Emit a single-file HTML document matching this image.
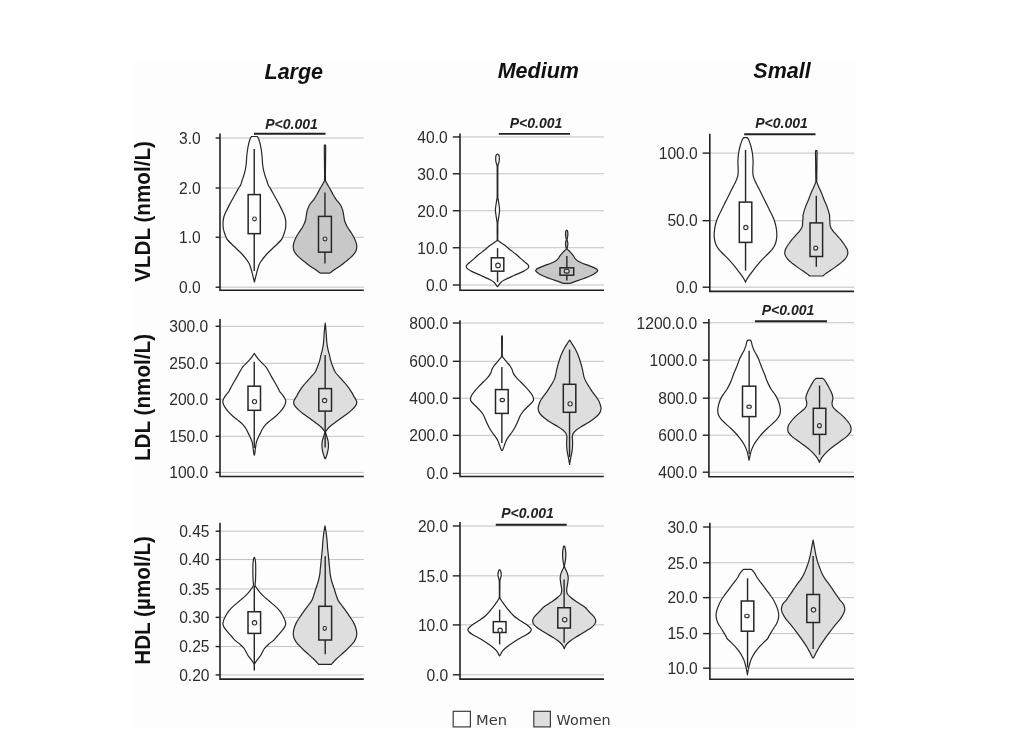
<!DOCTYPE html>
<html lang="en">
<head>
<meta charset="utf-8">
<title>Lipoprotein particle concentrations by size and sex</title>
<style>
html,body{margin:0;padding:0;background:#ffffff;}
body{width:1024px;height:738px;overflow:hidden;font-family:"Liberation Sans",Arial,sans-serif;}
svg{display:block;filter:blur(0.7px);}
</style>
</head>
<body>
<svg width="1024" height="738" viewBox="0 0 1024 738">
<rect x="132" y="62" width="724" height="667" fill="#fdfdfd"/>
<g><line x1="220.00" y1="138.00" x2="363.75" y2="138.00" stroke="#c2c2c2" stroke-width="1"/>
<line x1="220.00" y1="188.00" x2="363.75" y2="188.00" stroke="#c2c2c2" stroke-width="1"/>
<line x1="220.00" y1="237.25" x2="363.75" y2="237.25" stroke="#c2c2c2" stroke-width="1"/>
<line x1="220.00" y1="287.20" x2="363.75" y2="287.20" stroke="#c2c2c2" stroke-width="1"/>
<path d="M257.40 136.50 C257.67 137.04 258.46 138.12 259.00 139.75 C259.54 141.38 260.17 143.79 260.65 146.25 C261.13 148.71 261.60 151.79 261.90 154.50 C262.20 157.21 262.28 160.50 262.45 162.50 C262.62 164.50 262.69 165.14 262.90 166.50 C263.11 167.86 263.35 169.15 263.70 170.65 C264.05 172.15 264.51 173.90 265.00 175.50 C265.49 177.10 266.12 178.68 266.65 180.25 C267.17 181.82 267.57 183.59 268.15 184.90 C268.73 186.21 269.07 186.21 270.15 188.10 C271.23 189.99 273.15 193.53 274.65 196.25 C276.15 198.97 277.73 201.69 279.15 204.40 C280.57 207.11 282.21 210.48 283.15 212.50 C284.09 214.52 284.38 215.14 284.80 216.50 C285.22 217.86 285.48 219.28 285.65 220.65 C285.82 222.02 285.83 223.35 285.80 224.70 C285.77 226.05 285.68 227.41 285.45 228.75 C285.22 230.09 284.84 231.39 284.40 232.75 C283.96 234.11 283.34 235.69 282.80 236.90 C282.26 238.11 282.47 238.44 281.15 240.00 C279.83 241.56 277.36 243.83 274.90 246.25 C272.44 248.67 268.84 251.79 266.40 254.50 C263.96 257.21 261.57 260.50 260.25 262.50 C258.93 264.50 259.01 265.12 258.50 266.50 C257.99 267.88 257.58 269.38 257.20 270.75 C256.82 272.12 256.53 273.42 256.20 274.75 C255.87 276.08 255.50 277.54 255.20 278.75 C254.90 279.96 254.53 281.46 254.40 282.00 L254.40 282.00 C254.27 281.46 253.90 279.96 253.60 278.75 C253.30 277.54 252.93 276.08 252.60 274.75 C252.27 273.42 251.98 272.12 251.60 270.75 C251.22 269.38 250.81 267.88 250.30 266.50 C249.79 265.12 249.87 264.50 248.55 262.50 C247.23 260.50 244.84 257.21 242.40 254.50 C239.96 251.79 236.36 248.67 233.90 246.25 C231.44 243.83 228.97 241.56 227.65 240.00 C226.33 238.44 226.54 238.11 226.00 236.90 C225.46 235.69 224.84 234.11 224.40 232.75 C223.96 231.39 223.58 230.09 223.35 228.75 C223.12 227.41 223.03 226.05 223.00 224.70 C222.97 223.35 222.98 222.02 223.15 220.65 C223.32 219.28 223.58 217.86 224.00 216.50 C224.42 215.14 224.71 214.52 225.65 212.50 C226.59 210.48 228.23 207.11 229.65 204.40 C231.07 201.69 232.65 198.97 234.15 196.25 C235.65 193.53 237.57 189.99 238.65 188.10 C239.73 186.21 240.07 186.21 240.65 184.90 C241.23 183.59 241.62 181.82 242.15 180.25 C242.68 178.68 243.31 177.10 243.80 175.50 C244.29 173.90 244.75 172.15 245.10 170.65 C245.45 169.15 245.69 167.86 245.90 166.50 C246.11 165.14 246.18 164.50 246.35 162.50 C246.52 160.50 246.60 157.21 246.90 154.50 C247.20 151.79 247.67 148.71 248.15 146.25 C248.63 143.79 249.26 141.38 249.80 139.75 C250.34 138.12 251.13 137.04 251.40 136.50 Z" fill="#fdfdfd" stroke="#262626" stroke-width="1.2" stroke-linejoin="round"/>
<line x1="254.23" y1="148.90" x2="254.23" y2="271.00" stroke="#262626" stroke-width="1.4"/>
<rect x="248.15" y="194.60" width="12.15" height="39.05" fill="#fdfdfd" stroke="#262626" stroke-width="1.5"/>
<ellipse cx="254.50" cy="218.90" rx="1.90" ry="1.90" fill="#fdfdfd" stroke="#333" stroke-width="1.15"/>
<path d="M325.00 145.25 C325.11 145.38 325.55 144.21 325.65 146.00 C325.75 147.79 325.62 152.67 325.60 156.00 C325.58 159.33 325.52 162.00 325.50 166.00 C325.48 170.00 325.26 177.10 325.50 180.00 C325.74 182.90 326.20 181.94 326.95 183.40 C327.70 184.86 329.01 186.95 330.00 188.75 C330.99 190.55 331.87 192.39 332.90 194.20 C333.93 196.01 334.93 197.80 336.20 199.60 C337.47 201.40 339.41 203.20 340.50 205.00 C341.59 206.80 342.21 208.60 342.75 210.40 C343.29 212.20 343.41 213.98 343.75 215.80 C344.09 217.62 344.23 219.48 344.80 221.30 C345.38 223.12 346.20 224.90 347.20 226.70 C348.20 228.50 349.67 230.30 350.80 232.10 C351.93 233.90 353.10 235.70 354.00 237.50 C354.90 239.30 355.73 241.27 356.20 242.90 C356.67 244.53 356.88 245.85 356.80 247.30 C356.72 248.75 356.43 250.17 355.70 251.60 C354.97 253.03 354.03 254.27 352.40 255.90 C350.77 257.53 347.88 259.77 345.90 261.40 C343.92 263.03 342.48 264.27 340.50 265.70 C338.52 267.13 335.62 268.87 334.00 270.00 C332.38 271.13 331.46 271.98 330.75 272.50 C330.04 273.02 329.92 273.00 329.75 273.10 L320.25 273.10 C320.08 273.00 319.96 273.02 319.25 272.50 C318.54 271.98 317.62 271.13 316.00 270.00 C314.38 268.87 311.48 267.13 309.50 265.70 C307.52 264.27 306.08 263.03 304.10 261.40 C302.12 259.77 299.23 257.53 297.60 255.90 C295.97 254.27 295.03 253.03 294.30 251.60 C293.57 250.17 293.28 248.75 293.20 247.30 C293.12 245.85 293.33 244.53 293.80 242.90 C294.27 241.27 295.10 239.30 296.00 237.50 C296.90 235.70 298.07 233.90 299.20 232.10 C300.33 230.30 301.80 228.50 302.80 226.70 C303.80 224.90 304.62 223.12 305.20 221.30 C305.77 219.48 305.91 217.62 306.25 215.80 C306.59 213.98 306.71 212.20 307.25 210.40 C307.79 208.60 308.41 206.80 309.50 205.00 C310.59 203.20 312.53 201.40 313.80 199.60 C315.07 197.80 316.07 196.01 317.10 194.20 C318.13 192.39 319.01 190.55 320.00 188.75 C320.99 186.95 322.30 184.86 323.05 183.40 C323.80 181.94 324.26 182.90 324.50 180.00 C324.74 177.10 324.52 170.00 324.50 166.00 C324.48 162.00 324.42 159.33 324.40 156.00 C324.38 152.67 324.25 147.79 324.35 146.00 C324.45 144.21 324.89 145.38 325.00 145.25 Z" fill="#c8c8c8" stroke="#262626" stroke-width="1.2" stroke-linejoin="round"/>
<line x1="324.95" y1="192.60" x2="324.95" y2="263.50" stroke="#262626" stroke-width="1.4"/>
<rect x="318.50" y="216.40" width="12.90" height="35.75" fill="#c8c8c8" stroke="#262626" stroke-width="1.5"/>
<ellipse cx="325.00" cy="238.90" rx="1.90" ry="1.90" fill="#d6d6d6" stroke="#333" stroke-width="1.15"/>
<path d="M220.00 133.60 V290.30 H363.75" fill="none" stroke="#222" stroke-width="1.6"/>
<line x1="215.60" y1="138.00" x2="220.00" y2="138.00" stroke="#222" stroke-width="1.4"/>
<text x="200.80" y="143.75" text-anchor="end" font-family="Liberation Sans, Arial, sans-serif" font-size="15.6" fill="#2c2c2c">3.0</text>
<line x1="215.60" y1="188.00" x2="220.00" y2="188.00" stroke="#222" stroke-width="1.4"/>
<text x="200.80" y="193.75" text-anchor="end" font-family="Liberation Sans, Arial, sans-serif" font-size="15.6" fill="#2c2c2c">2.0</text>
<line x1="215.60" y1="237.25" x2="220.00" y2="237.25" stroke="#222" stroke-width="1.4"/>
<text x="200.80" y="243.00" text-anchor="end" font-family="Liberation Sans, Arial, sans-serif" font-size="15.6" fill="#2c2c2c">1.0</text>
<line x1="215.60" y1="287.20" x2="220.00" y2="287.20" stroke="#222" stroke-width="1.4"/>
<text x="200.80" y="292.95" text-anchor="end" font-family="Liberation Sans, Arial, sans-serif" font-size="15.6" fill="#2c2c2c">0.0</text>
<line x1="254.00" y1="133.75" x2="325.50" y2="133.75" stroke="#222" stroke-width="1.9"/>
<text x="291.50" y="128.50" text-anchor="middle" font-family="Liberation Sans, Arial, sans-serif" font-size="14" font-weight="bold" font-style="italic" fill="#222">P&lt;0.001</text></g>
<g><line x1="460.00" y1="136.95" x2="604.00" y2="136.95" stroke="#c2c2c2" stroke-width="1"/>
<line x1="460.00" y1="173.75" x2="604.00" y2="173.75" stroke="#c2c2c2" stroke-width="1"/>
<line x1="460.00" y1="210.75" x2="604.00" y2="210.75" stroke="#c2c2c2" stroke-width="1"/>
<line x1="460.00" y1="247.75" x2="604.00" y2="247.75" stroke="#c2c2c2" stroke-width="1"/>
<line x1="460.00" y1="285.00" x2="604.00" y2="285.00" stroke="#c2c2c2" stroke-width="1"/>
<path d="M497.50 154.21 C497.72 154.34 498.49 154.16 498.80 154.97 C499.11 155.79 499.34 157.77 499.34 159.09 C499.34 160.41 499.04 161.71 498.80 162.89 C498.56 164.06 498.04 163.70 497.88 166.14 C497.72 168.58 497.83 172.55 497.83 177.52 C497.82 182.49 497.77 192.34 497.83 195.95 C497.88 199.56 497.93 197.57 498.15 199.20 C498.37 200.83 498.89 203.90 499.13 205.70 C499.36 207.51 499.56 208.60 499.56 210.04 C499.56 211.49 499.36 212.57 499.13 214.38 C498.89 216.18 498.37 219.47 498.15 220.88 C497.93 222.29 497.88 221.10 497.83 222.83 C497.77 224.56 497.83 228.45 497.83 231.26 C497.83 234.07 497.70 238.13 497.83 239.72 C497.95 241.31 498.22 240.40 498.58 240.80 C498.95 241.20 498.95 241.34 499.99 242.10 C501.04 242.86 503.19 244.09 504.87 245.35 C506.55 246.62 508.27 248.24 510.07 249.69 C511.88 251.13 513.96 252.58 515.71 254.02 C517.46 255.47 519.14 257.10 520.59 258.36 C522.03 259.63 523.21 260.62 524.38 261.61 C525.56 262.61 526.91 263.51 527.64 264.32 C528.36 265.14 528.72 265.77 528.72 266.49 C528.72 267.21 528.54 267.85 527.64 268.66 C526.73 269.47 525.65 270.19 523.30 271.37 C520.95 272.54 516.71 274.26 513.54 275.70 C510.38 277.15 506.50 278.87 504.33 280.04 C502.16 281.21 501.44 281.94 500.54 282.75 C499.63 283.56 499.32 284.38 498.91 284.92 C498.49 285.46 498.28 285.73 498.04 286.00 C497.81 286.27 497.59 286.45 497.50 286.54 L497.50 286.54 C497.41 286.45 497.19 286.27 496.96 286.00 C496.72 285.73 496.51 285.46 496.09 284.92 C495.68 284.38 495.37 283.56 494.46 282.75 C493.56 281.94 492.84 281.21 490.67 280.04 C488.50 278.87 484.62 277.15 481.46 275.70 C478.29 274.26 474.05 272.54 471.70 271.37 C469.35 270.19 468.27 269.47 467.36 268.66 C466.46 267.85 466.28 267.21 466.28 266.49 C466.28 265.77 466.64 265.14 467.36 264.32 C468.09 263.51 469.44 262.61 470.62 261.61 C471.79 260.62 472.97 259.63 474.41 258.36 C475.86 257.10 477.54 255.47 479.29 254.02 C481.04 252.58 483.12 251.13 484.93 249.69 C486.73 248.24 488.45 246.62 490.13 245.35 C491.81 244.09 493.96 242.86 495.01 242.10 C496.05 241.34 496.05 241.20 496.42 240.80 C496.78 240.40 497.05 241.31 497.17 239.72 C497.30 238.13 497.17 234.07 497.17 231.26 C497.17 228.45 497.23 224.56 497.17 222.83 C497.12 221.10 497.07 222.29 496.85 220.88 C496.63 219.47 496.11 216.18 495.87 214.38 C495.64 212.57 495.44 211.49 495.44 210.04 C495.44 208.60 495.64 207.51 495.87 205.70 C496.11 203.90 496.63 200.83 496.85 199.20 C497.07 197.57 497.12 199.56 497.17 195.95 C497.23 192.34 497.18 182.49 497.17 177.52 C497.17 172.55 497.28 168.58 497.12 166.14 C496.96 163.70 496.44 164.06 496.20 162.89 C495.96 161.71 495.66 160.41 495.66 159.09 C495.66 157.77 495.89 155.79 496.20 154.97 C496.51 154.16 497.28 154.34 497.50 154.21 Z" fill="#fdfdfd" stroke="#262626" stroke-width="1.2" stroke-linejoin="round"/>
<line x1="497.55" y1="248.10" x2="497.55" y2="282.20" stroke="#262626" stroke-width="1.4"/>
<rect x="491.30" y="257.80" width="12.50" height="13.35" fill="#fdfdfd" stroke="#262626" stroke-width="1.5"/>
<ellipse cx="498.00" cy="265.40" rx="2.30" ry="2.30" fill="#fdfdfd" stroke="#333" stroke-width="1.15"/>
<path d="M566.70 230.18 C566.83 230.28 567.26 230.19 567.46 230.83 C567.66 231.46 567.89 232.81 567.89 233.97 C567.89 235.13 567.61 236.81 567.46 237.76 C567.31 238.72 566.95 239.08 566.97 239.72 C566.99 240.35 567.41 240.84 567.57 241.56 C567.72 242.28 567.91 243.15 567.89 244.05 C567.87 244.95 567.60 246.22 567.46 246.98 C567.31 247.74 566.93 248.12 567.03 248.60 C567.12 249.09 567.49 249.36 568.00 249.91 C568.51 250.45 569.18 250.90 570.06 251.86 C570.95 252.81 572.50 254.57 573.31 255.65 C574.13 256.73 574.18 257.46 574.94 258.36 C575.70 259.26 576.64 260.26 577.87 261.07 C579.09 261.88 580.54 262.52 582.31 263.24 C584.08 263.96 586.37 264.59 588.49 265.41 C590.60 266.22 593.46 267.30 594.99 268.12 C596.53 268.93 597.52 269.56 597.70 270.28 C597.88 271.01 597.25 271.55 596.08 272.45 C594.90 273.36 592.91 274.62 590.66 275.70 C588.40 276.79 584.97 278.05 582.53 278.96 C580.09 279.86 577.74 280.51 576.02 281.12 C574.31 281.74 573.17 282.28 572.23 282.64 C571.29 283.00 570.69 283.18 570.39 283.29 L563.01 283.29 C562.71 283.18 562.11 283.00 561.17 282.64 C560.23 282.28 559.09 281.74 557.38 281.12 C555.66 280.51 553.31 279.86 550.87 278.96 C548.43 278.05 545.00 276.79 542.74 275.70 C540.49 274.62 538.50 273.36 537.32 272.45 C536.15 271.55 535.52 271.01 535.70 270.28 C535.88 269.56 536.87 268.93 538.41 268.12 C539.94 267.30 542.80 266.22 544.91 265.41 C547.03 264.59 549.32 263.96 551.09 263.24 C552.86 262.52 554.31 261.88 555.53 261.07 C556.76 260.26 557.70 259.26 558.46 258.36 C559.22 257.46 559.27 256.73 560.09 255.65 C560.90 254.57 562.45 252.81 563.34 251.86 C564.22 250.90 564.89 250.45 565.40 249.91 C565.91 249.36 566.28 249.09 566.37 248.60 C566.47 248.12 566.09 247.74 565.94 246.98 C565.80 246.22 565.53 244.95 565.51 244.05 C565.49 243.15 565.68 242.28 565.83 241.56 C565.99 240.84 566.41 240.35 566.43 239.72 C566.45 239.08 566.09 238.72 565.94 237.76 C565.79 236.81 565.51 235.13 565.51 233.97 C565.51 232.81 565.74 231.46 565.94 230.83 C566.14 230.19 566.57 230.28 566.70 230.18 Z" fill="#c8c8c8" stroke="#262626" stroke-width="1.2" stroke-linejoin="round"/>
<line x1="566.85" y1="256.00" x2="566.85" y2="280.60" stroke="#262626" stroke-width="1.4"/>
<rect x="560.00" y="267.80" width="13.70" height="7.40" fill="#c8c8c8" stroke="#262626" stroke-width="1.5"/>
<ellipse cx="566.70" cy="271.15" rx="2.50" ry="2.00" fill="#d6d6d6" stroke="#333" stroke-width="1.15"/>
<path d="M460.00 133.60 V290.30 H604.00" fill="none" stroke="#222" stroke-width="1.6"/>
<line x1="452.80" y1="136.95" x2="460.00" y2="136.95" stroke="#222" stroke-width="1.4"/>
<text x="447.70" y="142.70" text-anchor="end" font-family="Liberation Sans, Arial, sans-serif" font-size="15.6" fill="#2c2c2c">40.0</text>
<line x1="452.80" y1="173.75" x2="460.00" y2="173.75" stroke="#222" stroke-width="1.4"/>
<text x="447.70" y="179.50" text-anchor="end" font-family="Liberation Sans, Arial, sans-serif" font-size="15.6" fill="#2c2c2c">30.0</text>
<line x1="452.80" y1="210.75" x2="460.00" y2="210.75" stroke="#222" stroke-width="1.4"/>
<text x="447.70" y="216.50" text-anchor="end" font-family="Liberation Sans, Arial, sans-serif" font-size="15.6" fill="#2c2c2c">20.0</text>
<line x1="452.80" y1="247.75" x2="460.00" y2="247.75" stroke="#222" stroke-width="1.4"/>
<text x="447.70" y="253.50" text-anchor="end" font-family="Liberation Sans, Arial, sans-serif" font-size="15.6" fill="#2c2c2c">10.0</text>
<line x1="452.80" y1="285.00" x2="460.00" y2="285.00" stroke="#222" stroke-width="1.4"/>
<text x="447.70" y="290.75" text-anchor="end" font-family="Liberation Sans, Arial, sans-serif" font-size="15.6" fill="#2c2c2c">0.0</text>
<line x1="498.80" y1="133.85" x2="570.00" y2="133.85" stroke="#222" stroke-width="1.9"/>
<text x="536.00" y="128.20" text-anchor="middle" font-family="Liberation Sans, Arial, sans-serif" font-size="14" font-weight="bold" font-style="italic" fill="#222">P&lt;0.001</text></g>
<g><line x1="709.80" y1="153.10" x2="854.00" y2="153.10" stroke="#c2c2c2" stroke-width="1"/>
<line x1="709.80" y1="220.70" x2="854.00" y2="220.70" stroke="#c2c2c2" stroke-width="1"/>
<line x1="709.80" y1="287.20" x2="854.00" y2="287.20" stroke="#c2c2c2" stroke-width="1"/>
<path d="M747.34 137.59 C747.49 137.80 747.90 138.35 748.21 138.89 C748.52 139.43 748.73 139.61 749.19 140.84 C749.64 142.07 750.43 144.45 750.92 146.26 C751.41 148.07 751.79 149.87 752.11 151.68 C752.44 153.49 752.71 155.29 752.87 157.10 C753.03 158.91 753.09 160.71 753.09 162.52 C753.09 164.33 752.91 166.13 752.87 167.94 C752.84 169.75 752.78 171.92 752.87 173.36 C752.96 174.81 753.05 175.35 753.41 176.61 C753.77 177.88 754.32 179.32 755.04 180.95 C755.76 182.57 756.85 184.56 757.75 186.37 C758.65 188.18 759.56 189.98 760.46 191.79 C761.36 193.60 762.27 195.40 763.17 197.21 C764.07 199.02 764.98 200.82 765.88 202.63 C766.78 204.44 767.96 206.75 768.59 208.05 C769.22 209.35 769.04 209.12 769.67 210.42 C770.31 211.72 771.57 214.03 772.38 215.84 C773.20 217.65 773.96 219.45 774.55 221.26 C775.15 223.07 775.60 224.87 775.96 226.68 C776.32 228.49 776.59 230.29 776.72 232.10 C776.85 233.91 776.90 235.71 776.72 237.52 C776.54 239.33 776.27 241.13 775.64 242.94 C775.00 244.75 774.19 246.55 772.93 248.36 C771.66 250.17 769.76 251.97 768.05 253.78 C766.33 255.59 764.34 257.39 762.63 259.20 C760.91 261.01 759.29 262.81 757.75 264.62 C756.21 266.43 754.80 268.23 753.41 270.04 C752.02 271.85 750.54 273.83 749.40 275.46 C748.26 277.09 747.18 278.80 746.58 279.80 C745.99 280.79 746.01 281.03 745.83 281.42 C745.64 281.82 745.55 282.06 745.50 282.18 L745.50 282.18 C745.45 282.06 745.36 281.82 745.17 281.42 C744.99 281.03 745.01 280.79 744.42 279.80 C743.82 278.80 742.74 277.09 741.60 275.46 C740.46 273.83 738.98 271.85 737.59 270.04 C736.20 268.23 734.79 266.43 733.25 264.62 C731.71 262.81 730.09 261.01 728.37 259.20 C726.66 257.39 724.67 255.59 722.95 253.78 C721.24 251.97 719.34 250.17 718.07 248.36 C716.81 246.55 716.00 244.75 715.36 242.94 C714.73 241.13 714.46 239.33 714.28 237.52 C714.10 235.71 714.15 233.91 714.28 232.10 C714.41 230.29 714.68 228.49 715.04 226.68 C715.40 224.87 715.85 223.07 716.45 221.26 C717.04 219.45 717.80 217.65 718.62 215.84 C719.43 214.03 720.69 211.72 721.33 210.42 C721.96 209.12 721.78 209.35 722.41 208.05 C723.04 206.75 724.22 204.44 725.12 202.63 C726.02 200.82 726.93 199.02 727.83 197.21 C728.73 195.40 729.64 193.60 730.54 191.79 C731.44 189.98 732.35 188.18 733.25 186.37 C734.15 184.56 735.24 182.57 735.96 180.95 C736.68 179.32 737.23 177.88 737.59 176.61 C737.95 175.35 738.04 174.81 738.13 173.36 C738.22 171.92 738.16 169.75 738.13 167.94 C738.09 166.13 737.91 164.33 737.91 162.52 C737.91 160.71 737.97 158.91 738.13 157.10 C738.29 155.29 738.56 153.49 738.89 151.68 C739.21 149.87 739.59 148.07 740.08 146.26 C740.57 144.45 741.36 142.07 741.81 140.84 C742.27 139.61 742.48 139.43 742.79 138.89 C743.10 138.35 743.51 137.80 743.66 137.59 Z" fill="#fdfdfd" stroke="#262626" stroke-width="1.2" stroke-linejoin="round"/>
<line x1="745.55" y1="150.00" x2="745.55" y2="270.60" stroke="#262626" stroke-width="1.4"/>
<rect x="739.30" y="202.10" width="12.50" height="40.30" fill="#fdfdfd" stroke="#262626" stroke-width="1.5"/>
<ellipse cx="745.80" cy="227.50" rx="2.10" ry="2.10" fill="#fdfdfd" stroke="#333" stroke-width="1.15"/>
<path d="M816.30 150.96 C816.43 151.05 816.95 149.79 817.06 151.50 C817.17 153.22 816.99 157.83 816.95 161.26 C816.91 164.69 816.88 168.85 816.84 172.10 C816.81 175.35 816.72 179.06 816.73 180.77 C816.75 182.49 816.66 181.50 816.95 182.40 C817.24 183.30 817.89 184.84 818.47 186.19 C819.05 187.55 819.79 189.08 820.42 190.53 C821.05 191.97 821.68 193.42 822.26 194.86 C822.84 196.31 823.31 197.76 823.89 199.20 C824.47 200.65 825.13 202.09 825.73 203.54 C826.33 204.98 826.96 206.43 827.47 207.87 C827.97 209.32 828.39 210.88 828.77 212.21 C829.15 213.54 829.62 215.12 829.74 215.84 C829.87 216.56 829.51 215.70 829.52 216.54 C829.54 217.38 829.71 219.19 829.85 220.88 C829.99 222.57 829.85 224.99 830.39 226.68 C830.93 228.37 832.02 229.57 833.10 231.02 C834.19 232.46 835.63 233.91 836.90 235.35 C838.16 236.80 839.52 238.24 840.69 239.69 C841.86 241.13 842.95 242.58 843.94 244.02 C844.94 245.47 846.02 247.10 846.65 248.36 C847.28 249.63 847.59 250.53 847.74 251.61 C847.88 252.70 847.97 253.60 847.52 254.86 C847.07 256.13 846.25 257.76 845.03 259.20 C843.80 260.65 841.95 262.09 840.15 263.54 C838.34 264.98 836.26 266.43 834.19 267.87 C832.11 269.32 829.36 271.03 827.68 272.21 C826.00 273.38 824.92 274.29 824.10 274.92 C823.29 275.55 823.02 275.82 822.80 276.00 L809.80 276.00 C809.58 275.82 809.31 275.55 808.50 274.92 C807.68 274.29 806.60 273.38 804.92 272.21 C803.24 271.03 800.49 269.32 798.41 267.87 C796.34 266.43 794.26 264.98 792.45 263.54 C790.65 262.09 788.80 260.65 787.57 259.20 C786.35 257.76 785.53 256.13 785.08 254.86 C784.63 253.60 784.72 252.70 784.86 251.61 C785.01 250.53 785.32 249.63 785.95 248.36 C786.58 247.10 787.66 245.47 788.66 244.02 C789.65 242.58 790.74 241.13 791.91 239.69 C793.08 238.24 794.44 236.80 795.70 235.35 C796.97 233.91 798.41 232.46 799.50 231.02 C800.58 229.57 801.67 228.37 802.21 226.68 C802.75 224.99 802.61 222.57 802.75 220.88 C802.89 219.19 803.06 217.38 803.08 216.54 C803.09 215.70 802.73 216.56 802.86 215.84 C802.98 215.12 803.45 213.54 803.83 212.21 C804.21 210.88 804.63 209.32 805.13 207.87 C805.64 206.43 806.27 204.98 806.87 203.54 C807.47 202.09 808.13 200.65 808.71 199.20 C809.29 197.76 809.76 196.31 810.34 194.86 C810.92 193.42 811.55 191.97 812.18 190.53 C812.81 189.08 813.55 187.55 814.13 186.19 C814.71 184.84 815.36 183.30 815.65 182.40 C815.94 181.50 815.85 182.49 815.87 180.77 C815.88 179.06 815.79 175.35 815.76 172.10 C815.72 168.85 815.69 164.69 815.65 161.26 C815.61 157.83 815.43 153.22 815.54 151.50 C815.65 149.79 816.17 151.05 816.30 150.96 Z" fill="#dedede" stroke="#262626" stroke-width="1.2" stroke-linejoin="round"/>
<line x1="816.30" y1="195.70" x2="816.30" y2="266.80" stroke="#262626" stroke-width="1.4"/>
<rect x="810.00" y="222.90" width="12.60" height="33.60" fill="#dedede" stroke="#262626" stroke-width="1.5"/>
<ellipse cx="815.70" cy="248.10" rx="2.00" ry="2.00" fill="#f0f0f0" stroke="#333" stroke-width="1.15"/>
<path d="M709.80 133.80 V291.40 H854.00" fill="none" stroke="#222" stroke-width="1.6"/>
<line x1="702.60" y1="153.10" x2="709.80" y2="153.10" stroke="#222" stroke-width="1.4"/>
<text x="697.80" y="158.85" text-anchor="end" font-family="Liberation Sans, Arial, sans-serif" font-size="15.6" fill="#2c2c2c">100.0</text>
<line x1="702.60" y1="220.70" x2="709.80" y2="220.70" stroke="#222" stroke-width="1.4"/>
<text x="697.80" y="226.45" text-anchor="end" font-family="Liberation Sans, Arial, sans-serif" font-size="15.6" fill="#2c2c2c">50.0</text>
<line x1="702.60" y1="287.20" x2="709.80" y2="287.20" stroke="#222" stroke-width="1.4"/>
<text x="697.80" y="292.95" text-anchor="end" font-family="Liberation Sans, Arial, sans-serif" font-size="15.6" fill="#2c2c2c">0.0</text>
<line x1="744.20" y1="134.25" x2="815.50" y2="134.25" stroke="#222" stroke-width="1.9"/>
<text x="781.50" y="128.20" text-anchor="middle" font-family="Liberation Sans, Arial, sans-serif" font-size="14" font-weight="bold" font-style="italic" fill="#222">P&lt;0.001</text></g>
<g><line x1="220.00" y1="326.30" x2="363.75" y2="326.30" stroke="#c2c2c2" stroke-width="1"/>
<line x1="220.00" y1="363.30" x2="363.75" y2="363.30" stroke="#c2c2c2" stroke-width="1"/>
<line x1="220.00" y1="399.30" x2="363.75" y2="399.30" stroke="#c2c2c2" stroke-width="1"/>
<line x1="220.00" y1="436.30" x2="363.75" y2="436.30" stroke="#c2c2c2" stroke-width="1"/>
<line x1="220.00" y1="472.40" x2="363.75" y2="472.40" stroke="#c2c2c2" stroke-width="1"/>
<path d="M254.30 353.46 C254.41 353.60 254.68 353.93 254.95 354.32 C255.22 354.72 255.35 355.05 255.93 355.84 C256.50 356.64 257.52 358.01 258.42 359.09 C259.32 360.18 260.14 361.08 261.35 362.34 C262.56 363.61 264.51 365.23 265.68 366.68 C266.86 368.13 267.54 369.57 268.39 371.02 C269.24 372.46 269.96 373.91 270.78 375.35 C271.59 376.80 272.44 378.24 273.27 379.69 C274.10 381.13 274.95 382.58 275.76 384.02 C276.58 385.47 277.48 387.10 278.15 388.36 C278.82 389.63 279.05 390.53 279.77 391.61 C280.50 392.70 281.67 393.78 282.48 394.86 C283.30 395.95 284.11 397.12 284.65 398.12 C285.19 399.11 285.65 399.83 285.74 400.83 C285.83 401.82 285.56 403.01 285.19 404.09 C284.83 405.18 284.38 406.08 283.57 407.34 C282.76 408.61 281.58 410.23 280.32 411.68 C279.05 413.13 277.61 414.57 275.98 416.02 C274.35 417.46 272.28 418.91 270.56 420.35 C268.84 421.80 267.04 423.24 265.68 424.69 C264.33 426.13 263.33 427.58 262.43 429.02 C261.53 430.47 260.98 431.92 260.26 433.36 C259.54 434.81 258.73 436.25 258.09 437.70 C257.46 439.14 256.87 440.59 256.47 442.03 C256.07 443.48 255.93 444.92 255.71 446.37 C255.49 447.81 255.33 449.44 255.17 450.70 C255.00 451.97 254.86 453.23 254.73 453.96 C254.61 454.68 254.46 454.86 254.41 455.04 L254.19 455.04 C254.14 454.86 253.99 454.68 253.87 453.96 C253.74 453.23 253.60 451.97 253.43 450.70 C253.27 449.44 253.11 447.81 252.89 446.37 C252.67 444.92 252.53 443.48 252.13 442.03 C251.73 440.59 251.14 439.14 250.51 437.70 C249.87 436.25 249.06 434.81 248.34 433.36 C247.62 431.92 247.07 430.47 246.17 429.02 C245.27 427.58 244.27 426.13 242.92 424.69 C241.56 423.24 239.76 421.80 238.04 420.35 C236.32 418.91 234.25 417.46 232.62 416.02 C230.99 414.57 229.55 413.13 228.28 411.68 C227.02 410.23 225.84 408.61 225.03 407.34 C224.22 406.08 223.77 405.18 223.41 404.09 C223.04 403.01 222.77 401.82 222.86 400.83 C222.95 399.83 223.41 399.11 223.95 398.12 C224.49 397.12 225.30 395.95 226.12 394.86 C226.93 393.78 228.10 392.70 228.83 391.61 C229.55 390.53 229.78 389.63 230.45 388.36 C231.12 387.10 232.02 385.47 232.84 384.02 C233.65 382.58 234.50 381.13 235.33 379.69 C236.16 378.24 237.01 376.80 237.82 375.35 C238.64 373.91 239.36 372.46 240.21 371.02 C241.06 369.57 241.74 368.13 242.92 366.68 C244.09 365.23 246.04 363.61 247.25 362.34 C248.46 361.08 249.28 360.18 250.18 359.09 C251.08 358.01 252.10 356.64 252.67 355.84 C253.25 355.05 253.38 354.72 253.65 354.32 C253.92 353.93 254.19 353.60 254.30 353.46 Z" fill="#fdfdfd" stroke="#262626" stroke-width="1.2" stroke-linejoin="round"/>
<line x1="254.25" y1="361.80" x2="254.25" y2="448.00" stroke="#262626" stroke-width="1.4"/>
<rect x="248.00" y="386.20" width="12.50" height="24.10" fill="#fdfdfd" stroke="#262626" stroke-width="1.5"/>
<ellipse cx="254.50" cy="401.60" rx="2.10" ry="2.10" fill="#fdfdfd" stroke="#333" stroke-width="1.15"/>
<path d="M325.20 323.20 C325.31 324.14 325.67 327.00 325.85 328.84 C326.03 330.68 326.16 332.45 326.28 334.26 C326.41 336.07 326.46 337.87 326.61 339.68 C326.75 341.49 326.88 343.29 327.15 345.10 C327.42 346.91 327.82 348.71 328.24 350.52 C328.65 352.33 329.19 354.13 329.64 355.94 C330.10 357.75 330.40 359.55 330.95 361.36 C331.49 363.17 332.17 364.97 332.90 366.78 C333.62 368.59 334.25 370.57 335.28 372.20 C336.31 373.83 337.81 375.09 339.08 376.54 C340.34 377.98 341.60 379.43 342.87 380.87 C344.13 382.32 345.49 383.76 346.66 385.21 C347.84 386.65 348.92 388.10 349.92 389.54 C350.91 390.99 352.03 392.83 352.63 393.88 C353.22 394.93 352.90 394.79 353.49 395.84 C354.09 396.89 355.66 399.00 356.20 400.18 C356.74 401.35 356.84 401.98 356.74 402.89 C356.65 403.79 356.47 404.42 355.66 405.60 C354.85 406.77 353.40 408.49 351.87 409.93 C350.33 411.38 348.34 412.82 346.45 414.27 C344.55 415.71 342.47 417.16 340.48 418.60 C338.50 420.05 336.42 421.50 334.52 422.94 C332.63 424.39 330.46 426.01 329.10 427.28 C327.75 428.54 326.99 429.72 326.39 430.53 C325.80 431.34 325.49 431.25 325.53 432.15 C325.56 433.06 326.18 434.41 326.61 435.95 C327.04 437.48 327.82 439.56 328.13 441.37 C328.43 443.18 328.54 444.98 328.45 446.79 C328.36 448.60 327.95 450.58 327.58 452.21 C327.22 453.83 326.61 455.55 326.28 456.54 C325.96 457.54 325.80 457.81 325.63 458.17 C325.47 458.53 325.36 458.62 325.31 458.71 L325.09 458.71 C325.04 458.62 324.93 458.53 324.77 458.17 C324.60 457.81 324.44 457.54 324.12 456.54 C323.79 455.55 323.18 453.83 322.82 452.21 C322.45 450.58 322.04 448.60 321.95 446.79 C321.86 444.98 321.97 443.18 322.27 441.37 C322.58 439.56 323.36 437.48 323.79 435.95 C324.22 434.41 324.84 433.06 324.87 432.15 C324.91 431.25 324.60 431.34 324.01 430.53 C323.41 429.72 322.65 428.54 321.30 427.28 C319.94 426.01 317.77 424.39 315.88 422.94 C313.98 421.50 311.90 420.05 309.92 418.60 C307.93 417.16 305.85 415.71 303.95 414.27 C302.06 412.82 300.07 411.38 298.53 409.93 C297.00 408.49 295.55 406.77 294.74 405.60 C293.93 404.42 293.75 403.79 293.66 402.89 C293.56 401.98 293.66 401.35 294.20 400.18 C294.74 399.00 296.31 396.89 296.91 395.84 C297.50 394.79 297.18 394.93 297.77 393.88 C298.37 392.83 299.49 390.99 300.48 389.54 C301.48 388.10 302.56 386.65 303.74 385.21 C304.91 383.76 306.27 382.32 307.53 380.87 C308.80 379.43 310.06 377.98 311.32 376.54 C312.59 375.09 314.09 373.83 315.12 372.20 C316.15 370.57 316.78 368.59 317.50 366.78 C318.23 364.97 318.91 363.17 319.45 361.36 C320.00 359.55 320.30 357.75 320.76 355.94 C321.21 354.13 321.75 352.33 322.16 350.52 C322.58 348.71 322.98 346.91 323.25 345.10 C323.52 343.29 323.65 341.49 323.79 339.68 C323.94 337.87 323.99 336.07 324.12 334.26 C324.24 332.45 324.37 330.68 324.55 328.84 C324.73 327.00 325.09 324.14 325.20 323.20 Z" fill="#dedede" stroke="#262626" stroke-width="1.2" stroke-linejoin="round"/>
<line x1="325.15" y1="354.90" x2="325.15" y2="447.50" stroke="#262626" stroke-width="1.4"/>
<rect x="318.80" y="388.60" width="12.70" height="22.50" fill="#dedede" stroke="#262626" stroke-width="1.5"/>
<ellipse cx="324.60" cy="400.50" rx="2.10" ry="2.10" fill="#f0f0f0" stroke="#333" stroke-width="1.15"/>
<path d="M220.00 319.00 V476.50 H363.75" fill="none" stroke="#222" stroke-width="1.6"/>
<line x1="215.60" y1="326.30" x2="220.00" y2="326.30" stroke="#222" stroke-width="1.4"/>
<text x="208.30" y="332.05" text-anchor="end" font-family="Liberation Sans, Arial, sans-serif" font-size="15.6" fill="#2c2c2c">300.0</text>
<line x1="215.60" y1="363.30" x2="220.00" y2="363.30" stroke="#222" stroke-width="1.4"/>
<text x="208.30" y="369.05" text-anchor="end" font-family="Liberation Sans, Arial, sans-serif" font-size="15.6" fill="#2c2c2c">250.0</text>
<line x1="215.60" y1="399.30" x2="220.00" y2="399.30" stroke="#222" stroke-width="1.4"/>
<text x="208.30" y="405.05" text-anchor="end" font-family="Liberation Sans, Arial, sans-serif" font-size="15.6" fill="#2c2c2c">200.0</text>
<line x1="215.60" y1="436.30" x2="220.00" y2="436.30" stroke="#222" stroke-width="1.4"/>
<text x="208.30" y="442.05" text-anchor="end" font-family="Liberation Sans, Arial, sans-serif" font-size="15.6" fill="#2c2c2c">150.0</text>
<line x1="215.60" y1="472.40" x2="220.00" y2="472.40" stroke="#222" stroke-width="1.4"/>
<text x="208.30" y="478.15" text-anchor="end" font-family="Liberation Sans, Arial, sans-serif" font-size="15.6" fill="#2c2c2c">100.0</text></g>
<g><line x1="460.00" y1="323.00" x2="603.75" y2="323.00" stroke="#c2c2c2" stroke-width="1"/>
<line x1="460.00" y1="361.30" x2="603.75" y2="361.30" stroke="#c2c2c2" stroke-width="1"/>
<line x1="460.00" y1="398.25" x2="603.75" y2="398.25" stroke="#c2c2c2" stroke-width="1"/>
<line x1="460.00" y1="435.35" x2="603.75" y2="435.35" stroke="#c2c2c2" stroke-width="1"/>
<line x1="460.00" y1="473.40" x2="603.75" y2="473.40" stroke="#c2c2c2" stroke-width="1"/>
<path d="M502.00 336.29 C502.06 336.38 502.33 335.17 502.38 336.83 C502.43 338.49 502.33 343.15 502.33 346.26 C502.32 349.37 502.27 353.70 502.33 355.47 C502.38 357.24 502.29 356.25 502.65 356.88 C503.01 357.52 503.73 358.33 504.49 359.27 C505.25 360.21 506.30 361.44 507.20 362.52 C508.11 363.60 509.14 364.69 509.91 365.77 C510.69 366.86 511.29 367.76 511.86 369.02 C512.44 370.29 512.62 371.92 513.38 373.36 C514.14 374.81 515.19 376.25 516.42 377.70 C517.65 379.14 519.31 380.59 520.75 382.03 C522.20 383.48 523.73 384.92 525.09 386.37 C526.44 387.81 527.71 389.26 528.88 390.70 C530.06 392.15 531.36 393.69 532.14 395.04 C532.91 396.40 533.45 397.73 533.54 398.83 C533.64 399.94 533.54 400.48 532.68 401.68 C531.81 402.88 529.79 404.57 528.34 406.02 C526.90 407.46 525.27 408.91 524.01 410.35 C522.74 411.80 521.62 413.24 520.75 414.69 C519.89 416.13 519.43 417.58 518.80 419.02 C518.17 420.47 517.63 421.92 516.96 423.36 C516.29 424.81 515.60 426.25 514.79 427.70 C513.98 429.14 513.07 430.59 512.08 432.03 C511.09 433.48 509.82 434.92 508.83 436.37 C507.84 437.81 506.84 439.26 506.12 440.70 C505.40 442.15 504.94 443.78 504.49 445.04 C504.04 446.31 503.70 447.50 503.41 448.29 C503.12 449.09 502.94 449.45 502.76 449.81 C502.58 450.17 502.40 450.35 502.33 450.46 L501.67 450.46 C501.60 450.35 501.42 450.17 501.24 449.81 C501.06 449.45 500.88 449.09 500.59 448.29 C500.30 447.50 499.96 446.31 499.51 445.04 C499.06 443.78 498.60 442.15 497.88 440.70 C497.16 439.26 496.16 437.81 495.17 436.37 C494.18 434.92 492.91 433.48 491.92 432.03 C490.93 430.59 490.02 429.14 489.21 427.70 C488.40 426.25 487.71 424.81 487.04 423.36 C486.37 421.92 485.83 420.47 485.20 419.02 C484.57 417.58 484.11 416.13 483.25 414.69 C482.38 413.24 481.26 411.80 479.99 410.35 C478.73 408.91 477.10 407.46 475.66 406.02 C474.21 404.57 472.19 402.88 471.32 401.68 C470.46 400.48 470.36 399.94 470.46 398.83 C470.55 397.73 471.09 396.40 471.86 395.04 C472.64 393.69 473.94 392.15 475.12 390.70 C476.29 389.26 477.56 387.81 478.91 386.37 C480.27 384.92 481.80 383.48 483.25 382.03 C484.69 380.59 486.35 379.14 487.58 377.70 C488.81 376.25 489.86 374.81 490.62 373.36 C491.38 371.92 491.56 370.29 492.14 369.02 C492.71 367.76 493.31 366.86 494.09 365.77 C494.86 364.69 495.89 363.60 496.80 362.52 C497.70 361.44 498.75 360.21 499.51 359.27 C500.27 358.33 500.99 357.52 501.35 356.88 C501.71 356.25 501.62 357.24 501.67 355.47 C501.73 353.70 501.68 349.37 501.67 346.26 C501.67 343.15 501.57 338.49 501.62 336.83 C501.67 335.17 501.94 336.38 502.00 336.29 Z" fill="#fdfdfd" stroke="#262626" stroke-width="1.2" stroke-linejoin="round"/>
<line x1="501.85" y1="366.90" x2="501.85" y2="442.90" stroke="#262626" stroke-width="1.4"/>
<rect x="495.50" y="389.60" width="12.70" height="23.80" fill="#fdfdfd" stroke="#262626" stroke-width="1.5"/>
<ellipse cx="502.30" cy="400.00" rx="2.20" ry="1.70" fill="#fdfdfd" stroke="#333" stroke-width="1.15"/>
<path d="M569.60 340.20 C569.74 340.38 570.07 340.71 570.47 341.29 C570.86 341.87 571.28 342.55 571.98 343.67 C572.69 344.79 573.88 346.56 574.69 348.01 C575.51 349.45 576.19 350.90 576.86 352.34 C577.53 353.79 578.16 355.23 578.71 356.68 C579.25 358.13 579.66 359.57 580.11 361.02 C580.57 362.46 581.02 363.91 581.42 365.35 C581.81 366.80 582.17 368.24 582.50 369.69 C582.82 371.13 583.04 372.58 583.37 374.02 C583.69 375.47 583.91 376.92 584.45 378.36 C584.99 379.81 585.81 381.25 586.62 382.70 C587.43 384.14 588.43 385.59 589.33 387.03 C590.23 388.48 591.05 389.92 592.04 391.37 C593.03 392.81 594.24 394.26 595.29 395.70 C596.34 397.15 597.51 398.60 598.33 400.04 C599.14 401.49 599.72 402.93 600.17 404.38 C600.62 405.82 601.18 407.16 601.04 408.71 C600.89 410.26 600.35 412.13 599.30 413.68 C598.25 415.23 596.50 416.57 594.75 418.02 C593.00 419.46 591.05 420.91 588.79 422.35 C586.53 423.80 583.28 425.42 581.20 426.69 C579.12 427.95 577.62 428.86 576.32 429.94 C575.02 431.02 574.06 432.11 573.39 433.19 C572.73 434.28 572.45 435.18 572.31 436.44 C572.17 437.71 572.49 439.15 572.53 440.78 C572.56 442.41 572.62 444.39 572.53 446.20 C572.44 448.01 572.26 449.81 571.98 451.62 C571.71 453.43 571.21 455.41 570.90 457.04 C570.59 458.67 570.34 460.29 570.14 461.38 C569.94 462.46 569.78 463.04 569.71 463.54 C569.64 464.05 569.71 464.27 569.71 464.41 L569.49 464.41 C569.49 464.27 569.56 464.05 569.49 463.54 C569.42 463.04 569.26 462.46 569.06 461.38 C568.86 460.29 568.61 458.67 568.30 457.04 C567.99 455.41 567.49 453.43 567.22 451.62 C566.94 449.81 566.76 448.01 566.67 446.20 C566.58 444.39 566.64 442.41 566.67 440.78 C566.71 439.15 567.03 437.71 566.89 436.44 C566.75 435.18 566.47 434.28 565.81 433.19 C565.14 432.11 564.18 431.02 562.88 429.94 C561.58 428.86 560.08 427.95 558.00 426.69 C555.92 425.42 552.67 423.80 550.41 422.35 C548.15 420.91 546.20 419.46 544.45 418.02 C542.70 416.57 540.95 415.23 539.90 413.68 C538.85 412.13 538.31 410.26 538.16 408.71 C538.02 407.16 538.58 405.82 539.03 404.38 C539.48 402.93 540.06 401.49 540.87 400.04 C541.69 398.60 542.86 397.15 543.91 395.70 C544.96 394.26 546.17 392.81 547.16 391.37 C548.15 389.92 548.97 388.48 549.87 387.03 C550.77 385.59 551.77 384.14 552.58 382.70 C553.39 381.25 554.21 379.81 554.75 378.36 C555.29 376.92 555.51 375.47 555.83 374.02 C556.16 372.58 556.38 371.13 556.70 369.69 C557.03 368.24 557.39 366.80 557.78 365.35 C558.18 363.91 558.63 362.46 559.09 361.02 C559.54 359.57 559.95 358.13 560.49 356.68 C561.04 355.23 561.67 353.79 562.34 352.34 C563.01 350.90 563.69 349.45 564.51 348.01 C565.32 346.56 566.51 344.79 567.22 343.67 C567.92 342.55 568.34 341.87 568.73 341.29 C569.13 340.71 569.46 340.38 569.60 340.20 Z" fill="#dedede" stroke="#262626" stroke-width="1.2" stroke-linejoin="round"/>
<line x1="569.55" y1="349.60" x2="569.55" y2="457.00" stroke="#262626" stroke-width="1.4"/>
<rect x="563.30" y="384.30" width="12.50" height="28.00" fill="#dedede" stroke="#262626" stroke-width="1.5"/>
<ellipse cx="570.10" cy="403.85" rx="2.10" ry="2.10" fill="#f0f0f0" stroke="#333" stroke-width="1.15"/>
<path d="M460.00 320.25 V476.50 H603.75" fill="none" stroke="#222" stroke-width="1.6"/>
<line x1="452.80" y1="323.00" x2="460.00" y2="323.00" stroke="#222" stroke-width="1.4"/>
<text x="448.30" y="328.75" text-anchor="end" font-family="Liberation Sans, Arial, sans-serif" font-size="15.6" fill="#2c2c2c">800.0</text>
<line x1="452.80" y1="361.30" x2="460.00" y2="361.30" stroke="#222" stroke-width="1.4"/>
<text x="448.30" y="367.05" text-anchor="end" font-family="Liberation Sans, Arial, sans-serif" font-size="15.6" fill="#2c2c2c">600.0</text>
<line x1="452.80" y1="398.25" x2="460.00" y2="398.25" stroke="#222" stroke-width="1.4"/>
<text x="448.30" y="404.00" text-anchor="end" font-family="Liberation Sans, Arial, sans-serif" font-size="15.6" fill="#2c2c2c">400.0</text>
<line x1="452.80" y1="435.35" x2="460.00" y2="435.35" stroke="#222" stroke-width="1.4"/>
<text x="448.30" y="441.10" text-anchor="end" font-family="Liberation Sans, Arial, sans-serif" font-size="15.6" fill="#2c2c2c">200.0</text>
<line x1="452.80" y1="473.40" x2="460.00" y2="473.40" stroke="#222" stroke-width="1.4"/>
<text x="448.30" y="479.15" text-anchor="end" font-family="Liberation Sans, Arial, sans-serif" font-size="15.6" fill="#2c2c2c">0.0</text></g>
<g><line x1="708.90" y1="322.75" x2="854.00" y2="322.75" stroke="#c2c2c2" stroke-width="1"/>
<line x1="708.90" y1="360.15" x2="854.00" y2="360.15" stroke="#c2c2c2" stroke-width="1"/>
<line x1="708.90" y1="398.15" x2="854.00" y2="398.15" stroke="#c2c2c2" stroke-width="1"/>
<line x1="708.90" y1="435.20" x2="854.00" y2="435.20" stroke="#c2c2c2" stroke-width="1"/>
<line x1="708.90" y1="472.20" x2="854.00" y2="472.20" stroke="#c2c2c2" stroke-width="1"/>
<path d="M750.48 340.20 C750.59 340.38 750.95 340.89 751.13 341.29 C751.31 341.68 751.36 341.83 751.56 342.59 C751.76 343.35 751.92 344.58 752.32 345.84 C752.72 347.10 753.28 348.73 753.95 350.18 C754.62 351.62 755.57 353.07 756.33 354.51 C757.09 355.96 757.87 357.40 758.50 358.85 C759.13 360.29 759.58 361.74 760.13 363.18 C760.67 364.63 761.17 366.07 761.75 367.52 C762.33 368.97 763.00 370.41 763.60 371.86 C764.19 373.30 764.79 374.75 765.33 376.19 C765.87 377.64 766.27 379.08 766.85 380.53 C767.43 381.97 768.08 383.42 768.80 384.86 C769.52 386.31 770.28 387.76 771.18 389.20 C772.09 390.65 773.26 392.09 774.22 393.54 C775.18 394.98 776.17 396.43 776.93 397.87 C777.69 399.32 778.27 400.76 778.77 402.21 C779.28 403.65 779.69 405.10 779.96 406.54 C780.24 407.99 780.45 409.48 780.40 410.88 C780.34 412.28 780.22 413.53 779.64 414.93 C779.06 416.33 778.10 417.82 776.93 419.27 C775.75 420.71 774.13 422.16 772.59 423.60 C771.06 425.05 769.25 426.50 767.71 427.94 C766.18 429.39 764.73 430.83 763.38 432.28 C762.02 433.72 760.76 435.17 759.58 436.61 C758.41 438.06 757.33 439.50 756.33 440.95 C755.34 442.39 754.40 443.84 753.62 445.28 C752.85 446.73 752.21 448.18 751.67 449.62 C751.13 451.07 750.70 452.69 750.37 453.96 C750.05 455.22 749.90 456.31 749.72 457.21 C749.54 458.11 749.40 458.87 749.29 459.38 C749.18 459.88 749.11 460.10 749.07 460.24 L749.07 460.24 C749.03 460.10 748.96 459.88 748.85 459.38 C748.74 458.87 748.60 458.11 748.42 457.21 C748.24 456.31 748.09 455.22 747.77 453.96 C747.44 452.69 747.01 451.07 746.47 449.62 C745.93 448.18 745.29 446.73 744.52 445.28 C743.74 443.84 742.80 442.39 741.81 440.95 C740.81 439.50 739.73 438.06 738.56 436.61 C737.38 435.17 736.12 433.72 734.76 432.28 C733.41 430.83 731.96 429.39 730.43 427.94 C728.89 426.50 727.08 425.05 725.55 423.60 C724.01 422.16 722.39 420.71 721.21 419.27 C720.04 417.82 719.08 416.33 718.50 414.93 C717.92 413.53 717.80 412.28 717.74 410.88 C717.69 409.48 717.90 407.99 718.18 406.54 C718.45 405.10 718.86 403.65 719.37 402.21 C719.87 400.76 720.45 399.32 721.21 397.87 C721.97 396.43 722.96 394.98 723.92 393.54 C724.88 392.09 726.05 390.65 726.96 389.20 C727.86 387.76 728.62 386.31 729.34 384.86 C730.06 383.42 730.71 381.97 731.29 380.53 C731.87 379.08 732.27 377.64 732.81 376.19 C733.35 374.75 733.95 373.30 734.54 371.86 C735.14 370.41 735.81 368.97 736.39 367.52 C736.97 366.07 737.47 364.63 738.01 363.18 C738.56 361.74 739.01 360.29 739.64 358.85 C740.27 357.40 741.05 355.96 741.81 354.51 C742.57 353.07 743.52 351.62 744.19 350.18 C744.86 348.73 745.42 347.10 745.82 345.84 C746.22 344.58 746.38 343.35 746.58 342.59 C746.78 341.83 746.83 341.68 747.01 341.29 C747.19 340.89 747.55 340.38 747.66 340.20 Z" fill="#fdfdfd" stroke="#262626" stroke-width="1.2" stroke-linejoin="round"/>
<line x1="749.15" y1="350.70" x2="749.15" y2="454.00" stroke="#262626" stroke-width="1.4"/>
<rect x="742.50" y="386.20" width="13.30" height="30.40" fill="#fdfdfd" stroke="#262626" stroke-width="1.5"/>
<ellipse cx="749.10" cy="406.65" rx="2.20" ry="1.60" fill="#fdfdfd" stroke="#333" stroke-width="1.15"/>
<path d="M822.65 378.29 C822.83 378.43 823.36 378.76 823.74 379.15 C824.12 379.55 824.49 380.06 824.93 380.67 C825.36 381.29 825.69 381.76 826.34 382.84 C826.99 383.92 828.05 385.73 828.83 387.18 C829.61 388.62 830.37 390.07 831.00 391.51 C831.63 392.96 832.32 394.58 832.62 395.85 C832.93 397.11 832.93 398.02 832.84 399.10 C832.75 400.18 832.17 401.27 832.08 402.35 C831.99 403.44 831.90 404.52 832.30 405.60 C832.70 406.69 833.47 407.77 834.47 408.86 C835.46 409.94 837.00 411.02 838.26 412.11 C839.53 413.19 840.88 414.28 842.06 415.36 C843.23 416.44 844.31 417.53 845.31 418.61 C846.30 419.70 847.20 420.78 848.02 421.86 C848.83 422.95 849.68 424.03 850.19 425.12 C850.69 426.20 850.96 427.28 851.05 428.37 C851.14 429.45 850.87 430.93 850.73 431.62 C850.58 432.31 850.91 431.65 850.19 432.52 C849.46 433.39 848.02 435.41 846.39 436.86 C844.77 438.30 842.42 439.75 840.43 441.19 C838.44 442.64 836.36 444.08 834.47 445.53 C832.57 446.97 830.67 448.42 829.05 449.86 C827.42 451.31 825.89 452.94 824.71 454.20 C823.54 455.47 822.72 456.46 822.00 457.45 C821.28 458.45 820.76 459.48 820.38 460.16 C820.00 460.85 819.89 461.21 819.73 461.57 C819.56 461.93 819.45 462.20 819.40 462.33 L819.40 462.33 C819.35 462.20 819.24 461.93 819.07 461.57 C818.91 461.21 818.80 460.85 818.42 460.16 C818.04 459.48 817.52 458.45 816.80 457.45 C816.08 456.46 815.26 455.47 814.09 454.20 C812.91 452.94 811.38 451.31 809.75 449.86 C808.13 448.42 806.23 446.97 804.33 445.53 C802.44 444.08 800.36 442.64 798.37 441.19 C796.38 439.75 794.03 438.30 792.41 436.86 C790.78 435.41 789.34 433.39 788.61 432.52 C787.89 431.65 788.22 432.31 788.07 431.62 C787.93 430.93 787.66 429.45 787.75 428.37 C787.84 427.28 788.11 426.20 788.61 425.12 C789.12 424.03 789.97 422.95 790.78 421.86 C791.60 420.78 792.50 419.70 793.49 418.61 C794.49 417.53 795.57 416.44 796.74 415.36 C797.92 414.28 799.27 413.19 800.54 412.11 C801.80 411.02 803.34 409.94 804.33 408.86 C805.33 407.77 806.10 406.69 806.50 405.60 C806.90 404.52 806.81 403.44 806.72 402.35 C806.63 401.27 806.05 400.18 805.96 399.10 C805.87 398.02 805.87 397.11 806.18 395.85 C806.48 394.58 807.17 392.96 807.80 391.51 C808.43 390.07 809.19 388.62 809.97 387.18 C810.75 385.73 811.81 383.92 812.46 382.84 C813.11 381.76 813.44 381.29 813.87 380.67 C814.31 380.06 814.68 379.55 815.06 379.15 C815.44 378.76 815.97 378.43 816.15 378.29 Z" fill="#dedede" stroke="#262626" stroke-width="1.2" stroke-linejoin="round"/>
<line x1="819.55" y1="385.55" x2="819.55" y2="454.70" stroke="#262626" stroke-width="1.4"/>
<rect x="813.30" y="408.30" width="12.50" height="26.10" fill="#dedede" stroke="#262626" stroke-width="1.5"/>
<ellipse cx="819.40" cy="425.65" rx="1.90" ry="2.00" fill="#f0f0f0" stroke="#333" stroke-width="1.15"/>
<path d="M708.90 319.00 V476.70 H854.00" fill="none" stroke="#222" stroke-width="1.6"/>
<line x1="702.80" y1="322.75" x2="708.90" y2="322.75" stroke="#222" stroke-width="1.4"/>
<text x="697.30" y="328.50" text-anchor="end" font-family="Liberation Sans, Arial, sans-serif" font-size="15.6" fill="#2c2c2c">1200.0.0</text>
<line x1="702.80" y1="360.15" x2="708.90" y2="360.15" stroke="#222" stroke-width="1.4"/>
<text x="697.30" y="365.90" text-anchor="end" font-family="Liberation Sans, Arial, sans-serif" font-size="15.6" fill="#2c2c2c">1000.0</text>
<line x1="702.80" y1="398.15" x2="708.90" y2="398.15" stroke="#222" stroke-width="1.4"/>
<text x="697.30" y="403.90" text-anchor="end" font-family="Liberation Sans, Arial, sans-serif" font-size="15.6" fill="#2c2c2c">800.0</text>
<line x1="702.80" y1="435.20" x2="708.90" y2="435.20" stroke="#222" stroke-width="1.4"/>
<text x="697.30" y="440.95" text-anchor="end" font-family="Liberation Sans, Arial, sans-serif" font-size="15.6" fill="#2c2c2c">600.0</text>
<line x1="702.80" y1="472.20" x2="708.90" y2="472.20" stroke="#222" stroke-width="1.4"/>
<text x="697.30" y="477.95" text-anchor="end" font-family="Liberation Sans, Arial, sans-serif" font-size="15.6" fill="#2c2c2c">400.0</text>
<line x1="755.00" y1="321.25" x2="827.00" y2="321.25" stroke="#222" stroke-width="1.9"/>
<text x="788.00" y="314.50" text-anchor="middle" font-family="Liberation Sans, Arial, sans-serif" font-size="14" font-weight="bold" font-style="italic" fill="#222">P&lt;0.001</text></g>
<g><line x1="220.00" y1="531.20" x2="363.75" y2="531.20" stroke="#c2c2c2" stroke-width="1"/>
<line x1="220.00" y1="559.55" x2="363.75" y2="559.55" stroke="#c2c2c2" stroke-width="1"/>
<line x1="220.00" y1="588.95" x2="363.75" y2="588.95" stroke="#c2c2c2" stroke-width="1"/>
<line x1="220.00" y1="617.35" x2="363.75" y2="617.35" stroke="#c2c2c2" stroke-width="1"/>
<line x1="220.00" y1="646.55" x2="363.75" y2="646.55" stroke="#c2c2c2" stroke-width="1"/>
<line x1="220.00" y1="674.90" x2="363.75" y2="674.90" stroke="#c2c2c2" stroke-width="1"/>
<path d="M254.30 557.37 C254.37 557.48 254.61 557.71 254.73 558.02 C254.86 558.33 254.91 558.38 255.06 559.21 C255.20 560.05 255.49 560.93 255.60 563.01 C255.71 565.09 255.73 568.79 255.71 571.68 C255.69 574.57 255.60 578.18 255.49 580.35 C255.38 582.52 255.00 583.60 255.06 584.69 C255.11 585.77 255.31 585.95 255.82 586.86 C256.32 587.76 257.26 589.02 258.09 590.11 C258.93 591.19 259.81 592.28 260.80 593.36 C261.80 594.44 262.88 595.53 264.06 596.61 C265.23 597.70 266.59 598.78 267.85 599.86 C269.11 600.95 270.38 602.03 271.64 603.12 C272.91 604.20 274.26 605.28 275.44 606.37 C276.61 607.45 277.73 608.54 278.69 609.62 C279.65 610.70 280.46 611.79 281.18 612.87 C281.91 613.96 282.45 615.04 283.03 616.12 C283.60 617.21 284.24 618.29 284.65 619.38 C285.07 620.46 285.34 621.88 285.52 622.63 C285.70 623.37 285.88 623.10 285.74 623.85 C285.59 624.59 285.37 625.84 284.65 627.10 C283.93 628.36 282.57 629.99 281.40 631.44 C280.23 632.88 278.87 634.33 277.61 635.77 C276.34 637.22 275.35 638.66 273.81 640.11 C272.28 641.55 269.84 643.18 268.39 644.44 C266.95 645.71 266.04 646.61 265.14 647.70 C264.24 648.78 263.60 649.86 262.97 650.95 C262.34 652.03 261.98 653.12 261.35 654.20 C260.71 655.28 259.95 656.37 259.18 657.45 C258.40 658.54 257.35 659.80 256.68 660.70 C256.02 661.61 255.55 662.33 255.17 662.87 C254.79 663.41 254.53 663.78 254.41 663.96 L254.19 663.96 C254.07 663.78 253.81 663.41 253.43 662.87 C253.05 662.33 252.58 661.61 251.92 660.70 C251.25 659.80 250.20 658.54 249.42 657.45 C248.65 656.37 247.89 655.28 247.25 654.20 C246.62 653.12 246.26 652.03 245.63 650.95 C245.00 649.86 244.36 648.78 243.46 647.70 C242.56 646.61 241.65 645.71 240.21 644.44 C238.76 643.18 236.32 641.55 234.79 640.11 C233.25 638.66 232.26 637.22 230.99 635.77 C229.73 634.33 228.37 632.88 227.20 631.44 C226.03 629.99 224.67 628.36 223.95 627.10 C223.23 625.84 223.01 624.59 222.86 623.85 C222.72 623.10 222.90 623.37 223.08 622.63 C223.26 621.88 223.53 620.46 223.95 619.38 C224.36 618.29 225.00 617.21 225.57 616.12 C226.15 615.04 226.69 613.96 227.42 612.87 C228.14 611.79 228.95 610.70 229.91 609.62 C230.87 608.54 231.99 607.45 233.16 606.37 C234.34 605.28 235.69 604.20 236.96 603.12 C238.22 602.03 239.49 600.95 240.75 599.86 C242.01 598.78 243.37 597.70 244.54 596.61 C245.72 595.53 246.80 594.44 247.80 593.36 C248.79 592.28 249.67 591.19 250.51 590.11 C251.34 589.02 252.28 587.76 252.78 586.86 C253.29 585.95 253.49 585.77 253.54 584.69 C253.60 583.60 253.22 582.52 253.11 580.35 C253.00 578.18 252.91 574.57 252.89 571.68 C252.87 568.79 252.89 565.09 253.00 563.01 C253.11 560.93 253.40 560.05 253.54 559.21 C253.69 558.38 253.74 558.33 253.87 558.02 C253.99 557.71 254.23 557.48 254.30 557.37 Z" fill="#fdfdfd" stroke="#262626" stroke-width="1.2" stroke-linejoin="round"/>
<line x1="254.30" y1="585.80" x2="254.30" y2="670.50" stroke="#262626" stroke-width="1.4"/>
<rect x="248.00" y="611.75" width="12.60" height="21.65" fill="#fdfdfd" stroke="#262626" stroke-width="1.5"/>
<ellipse cx="254.55" cy="622.80" rx="2.20" ry="2.20" fill="#fdfdfd" stroke="#333" stroke-width="1.15"/>
<path d="M325.00 525.96 C325.14 526.78 325.60 529.12 325.87 530.84 C326.14 532.56 326.41 534.45 326.63 536.26 C326.84 538.07 327.02 539.87 327.17 541.68 C327.31 543.49 327.35 545.29 327.49 547.10 C327.64 548.91 327.85 550.71 328.04 552.52 C328.22 554.33 328.40 556.13 328.58 557.94 C328.76 559.75 328.94 561.55 329.12 563.36 C329.30 565.17 329.48 566.97 329.66 568.78 C329.84 570.59 329.93 572.39 330.20 574.20 C330.47 576.01 330.84 577.81 331.29 579.62 C331.74 581.43 332.34 583.23 332.91 585.04 C333.49 586.85 334.18 588.65 334.76 590.46 C335.33 592.27 335.79 594.18 336.38 595.88 C336.97 597.58 337.42 599.15 338.28 600.67 C339.14 602.19 340.45 603.56 341.53 605.01 C342.62 606.45 343.74 607.90 344.78 609.34 C345.83 610.79 346.82 612.23 347.82 613.68 C348.81 615.13 349.81 616.57 350.75 618.02 C351.68 619.46 352.68 620.91 353.46 622.35 C354.23 623.80 354.90 625.24 355.41 626.69 C355.91 628.13 356.27 629.76 356.49 631.02 C356.71 632.29 356.76 633.19 356.71 634.28 C356.65 635.36 356.62 636.26 356.17 637.53 C355.71 638.79 354.99 640.42 354.00 641.86 C353.00 643.31 351.56 644.76 350.20 646.20 C348.85 647.65 347.40 649.09 345.87 650.54 C344.33 651.98 342.62 653.43 340.99 654.87 C339.36 656.32 337.43 657.94 336.11 659.21 C334.79 660.47 333.87 661.59 333.08 662.46 C332.28 663.33 331.63 664.09 331.34 664.41 L318.66 664.41 C318.37 664.09 317.72 663.33 316.92 662.46 C316.13 661.59 315.21 660.47 313.89 659.21 C312.57 657.94 310.64 656.32 309.01 654.87 C307.38 653.43 305.67 651.98 304.13 650.54 C302.60 649.09 301.15 647.65 299.80 646.20 C298.44 644.76 297.00 643.31 296.00 641.86 C295.01 640.42 294.29 638.79 293.83 637.53 C293.38 636.26 293.35 635.36 293.29 634.28 C293.24 633.19 293.29 632.29 293.51 631.02 C293.73 629.76 294.09 628.13 294.59 626.69 C295.10 625.24 295.77 623.80 296.54 622.35 C297.32 620.91 298.32 619.46 299.25 618.02 C300.19 616.57 301.19 615.13 302.18 613.68 C303.18 612.23 304.17 610.79 305.22 609.34 C306.26 607.90 307.38 606.45 308.47 605.01 C309.55 603.56 310.86 602.19 311.72 600.67 C312.58 599.15 313.03 597.58 313.62 595.88 C314.21 594.18 314.67 592.27 315.24 590.46 C315.82 588.65 316.51 586.85 317.09 585.04 C317.66 583.23 318.26 581.43 318.71 579.62 C319.16 577.81 319.53 576.01 319.80 574.20 C320.07 572.39 320.16 570.59 320.34 568.78 C320.52 566.97 320.70 565.17 320.88 563.36 C321.06 561.55 321.24 559.75 321.42 557.94 C321.60 556.13 321.78 554.33 321.96 552.52 C322.15 550.71 322.36 548.91 322.51 547.10 C322.65 545.29 322.69 543.49 322.83 541.68 C322.98 539.87 323.16 538.07 323.37 536.26 C323.59 534.45 323.86 532.56 324.13 530.84 C324.40 529.12 324.86 526.78 325.00 525.96 Z" fill="#dedede" stroke="#262626" stroke-width="1.2" stroke-linejoin="round"/>
<line x1="325.20" y1="556.30" x2="325.20" y2="654.30" stroke="#262626" stroke-width="1.4"/>
<rect x="318.80" y="606.30" width="12.80" height="33.70" fill="#dedede" stroke="#262626" stroke-width="1.5"/>
<ellipse cx="324.75" cy="628.30" rx="1.70" ry="2.00" fill="#f0f0f0" stroke="#333" stroke-width="1.15"/>
<path d="M220.00 522.75 V679.10 H363.75" fill="none" stroke="#222" stroke-width="1.6"/>
<line x1="215.60" y1="531.20" x2="220.00" y2="531.20" stroke="#222" stroke-width="1.4"/>
<text x="209.55" y="536.95" text-anchor="end" font-family="Liberation Sans, Arial, sans-serif" font-size="15.6" fill="#2c2c2c">0.45</text>
<line x1="215.60" y1="559.55" x2="220.00" y2="559.55" stroke="#222" stroke-width="1.4"/>
<text x="209.55" y="565.30" text-anchor="end" font-family="Liberation Sans, Arial, sans-serif" font-size="15.6" fill="#2c2c2c">0.40</text>
<line x1="215.60" y1="588.95" x2="220.00" y2="588.95" stroke="#222" stroke-width="1.4"/>
<text x="209.55" y="594.70" text-anchor="end" font-family="Liberation Sans, Arial, sans-serif" font-size="15.6" fill="#2c2c2c">0.35</text>
<line x1="215.60" y1="617.35" x2="220.00" y2="617.35" stroke="#222" stroke-width="1.4"/>
<text x="209.55" y="623.10" text-anchor="end" font-family="Liberation Sans, Arial, sans-serif" font-size="15.6" fill="#2c2c2c">0.30</text>
<line x1="215.60" y1="646.55" x2="220.00" y2="646.55" stroke="#222" stroke-width="1.4"/>
<text x="209.55" y="652.30" text-anchor="end" font-family="Liberation Sans, Arial, sans-serif" font-size="15.6" fill="#2c2c2c">0.25</text>
<line x1="215.60" y1="674.90" x2="220.00" y2="674.90" stroke="#222" stroke-width="1.4"/>
<text x="209.55" y="680.65" text-anchor="end" font-family="Liberation Sans, Arial, sans-serif" font-size="15.6" fill="#2c2c2c">0.20</text></g>
<g><line x1="460.00" y1="526.00" x2="604.00" y2="526.00" stroke="#c2c2c2" stroke-width="1"/>
<line x1="460.00" y1="575.85" x2="604.00" y2="575.85" stroke="#c2c2c2" stroke-width="1"/>
<line x1="460.00" y1="624.90" x2="604.00" y2="624.90" stroke="#c2c2c2" stroke-width="1"/>
<line x1="460.00" y1="674.80" x2="604.00" y2="674.80" stroke="#c2c2c2" stroke-width="1"/>
<path d="M499.60 569.88 C499.74 569.99 500.20 569.72 500.47 570.53 C500.74 571.34 501.23 573.42 501.23 574.76 C501.23 576.09 500.68 577.47 500.47 578.55 C500.25 579.63 500.02 579.54 499.93 581.26 C499.83 582.98 499.88 586.23 499.87 588.85 C499.86 591.47 499.70 595.17 499.87 596.98 C500.04 598.79 500.37 598.69 500.90 599.69 C501.43 600.68 502.31 601.86 503.07 602.94 C503.83 604.02 504.64 605.11 505.45 606.19 C506.27 607.28 507.08 608.36 507.95 609.44 C508.81 610.53 509.66 611.61 510.66 612.70 C511.65 613.78 512.64 614.86 513.91 615.95 C515.17 617.03 516.71 618.12 518.24 619.20 C519.78 620.28 521.50 621.37 523.12 622.45 C524.75 623.54 526.74 624.71 528.00 625.70 C529.27 626.70 530.17 627.73 530.71 628.41 C531.25 629.10 531.34 629.23 531.25 629.82 C531.16 630.42 530.98 631.17 530.17 631.98 C529.36 632.79 528.00 633.69 526.38 634.69 C524.75 635.68 522.31 636.86 520.41 637.94 C518.52 639.02 516.71 640.11 514.99 641.19 C513.28 642.28 511.65 643.36 510.11 644.44 C508.58 645.53 506.95 646.70 505.78 647.70 C504.60 648.69 503.79 649.59 503.07 650.41 C502.35 651.22 501.84 651.94 501.44 652.57 C501.05 653.21 500.90 653.77 500.68 654.20 C500.47 654.63 500.32 654.91 500.14 655.18 C499.96 655.45 499.69 655.72 499.60 655.83 L499.60 655.83 C499.51 655.72 499.24 655.45 499.06 655.18 C498.88 654.91 498.73 654.63 498.52 654.20 C498.30 653.77 498.15 653.21 497.76 652.57 C497.36 651.94 496.85 651.22 496.13 650.41 C495.41 649.59 494.60 648.69 493.42 647.70 C492.25 646.70 490.62 645.53 489.09 644.44 C487.55 643.36 485.92 642.28 484.21 641.19 C482.49 640.11 480.68 639.02 478.79 637.94 C476.89 636.86 474.45 635.68 472.82 634.69 C471.20 633.69 469.84 632.79 469.03 631.98 C468.22 631.17 468.04 630.42 467.95 629.82 C467.86 629.23 467.95 629.10 468.49 628.41 C469.03 627.73 469.93 626.70 471.20 625.70 C472.46 624.71 474.45 623.54 476.08 622.45 C477.70 621.37 479.42 620.28 480.96 619.20 C482.49 618.12 484.03 617.03 485.29 615.95 C486.56 614.86 487.55 613.78 488.54 612.70 C489.54 611.61 490.39 610.53 491.25 609.44 C492.12 608.36 492.93 607.28 493.75 606.19 C494.56 605.11 495.37 604.02 496.13 602.94 C496.89 601.86 497.77 600.68 498.30 599.69 C498.83 598.69 499.16 598.79 499.33 596.98 C499.50 595.17 499.34 591.47 499.33 588.85 C499.32 586.23 499.37 582.98 499.27 581.26 C499.18 579.54 498.95 579.63 498.73 578.55 C498.52 577.47 497.97 576.09 497.97 574.76 C497.97 573.42 498.46 571.34 498.73 570.53 C499.00 569.72 499.46 569.99 499.60 569.88 Z" fill="#fdfdfd" stroke="#262626" stroke-width="1.2" stroke-linejoin="round"/>
<line x1="499.65" y1="609.70" x2="499.65" y2="644.40" stroke="#262626" stroke-width="1.4"/>
<rect x="493.30" y="621.65" width="12.70" height="10.85" fill="#fdfdfd" stroke="#262626" stroke-width="1.5"/>
<ellipse cx="500.15" cy="630.25" rx="2.20" ry="2.20" fill="#fdfdfd" stroke="#333" stroke-width="1.15"/>
<path d="M564.20 545.96 C564.31 546.09 564.62 545.91 564.85 546.72 C565.09 547.53 565.45 549.43 565.61 550.84 C565.77 552.25 565.86 553.55 565.83 555.18 C565.79 556.80 565.59 558.97 565.39 560.60 C565.19 562.22 564.79 563.94 564.63 564.93 C564.48 565.93 564.31 565.84 564.47 566.56 C564.63 567.28 565.11 568.09 565.61 569.27 C566.11 570.44 567.02 572.16 567.45 573.60 C567.89 575.05 568.17 576.31 568.21 577.94 C568.25 579.57 567.89 581.73 567.67 583.36 C567.45 584.99 567.07 586.43 566.91 587.70 C566.75 588.96 566.58 589.86 566.69 590.95 C566.80 592.03 566.87 593.12 567.56 594.20 C568.25 595.28 569.55 596.37 570.81 597.45 C572.08 598.54 573.61 599.62 575.15 600.70 C576.68 601.79 578.40 602.87 580.03 603.96 C581.65 605.04 583.46 605.99 584.90 607.21 C586.35 608.43 587.52 610.04 588.70 611.26 C589.87 612.48 590.96 613.43 591.95 614.51 C592.94 615.60 594.03 616.68 594.66 617.76 C595.29 618.85 595.74 619.93 595.74 621.02 C595.74 622.10 595.38 623.18 594.66 624.27 C593.94 625.35 592.76 626.44 591.41 627.52 C590.05 628.60 588.25 629.69 586.53 630.77 C584.81 631.86 582.92 632.94 581.11 634.02 C579.30 635.11 577.41 636.19 575.69 637.28 C573.97 638.36 572.26 639.44 570.81 640.53 C569.37 641.61 567.96 642.79 567.02 643.78 C566.08 644.77 565.59 645.80 565.18 646.49 C564.76 647.18 564.69 647.54 564.53 647.90 C564.36 648.26 564.25 648.53 564.20 648.66 L564.20 648.66 C564.15 648.53 564.04 648.26 563.87 647.90 C563.71 647.54 563.64 647.18 563.22 646.49 C562.81 645.80 562.32 644.77 561.38 643.78 C560.44 642.79 559.03 641.61 557.59 640.53 C556.14 639.44 554.43 638.36 552.71 637.28 C550.99 636.19 549.10 635.11 547.29 634.02 C545.48 632.94 543.59 631.86 541.87 630.77 C540.15 629.69 538.35 628.60 536.99 627.52 C535.64 626.44 534.46 625.35 533.74 624.27 C533.02 623.18 532.66 622.10 532.66 621.02 C532.66 619.93 533.11 618.85 533.74 617.76 C534.37 616.68 535.46 615.60 536.45 614.51 C537.44 613.43 538.53 612.48 539.70 611.26 C540.88 610.04 542.05 608.43 543.50 607.21 C544.94 605.99 546.75 605.04 548.37 603.96 C550.00 602.87 551.72 601.79 553.25 600.70 C554.79 599.62 556.32 598.54 557.59 597.45 C558.85 596.37 560.15 595.28 560.84 594.20 C561.53 593.12 561.60 592.03 561.71 590.95 C561.82 589.86 561.65 588.96 561.49 587.70 C561.33 586.43 560.95 584.99 560.73 583.36 C560.51 581.73 560.15 579.57 560.19 577.94 C560.23 576.31 560.51 575.05 560.95 573.60 C561.38 572.16 562.29 570.44 562.79 569.27 C563.29 568.09 563.77 567.28 563.93 566.56 C564.09 565.84 563.92 565.93 563.77 564.93 C563.61 563.94 563.21 562.22 563.01 560.60 C562.81 558.97 562.61 556.80 562.57 555.18 C562.54 553.55 562.63 552.25 562.79 550.84 C562.95 549.43 563.31 547.53 563.55 546.72 C563.78 545.91 564.09 546.09 564.20 545.96 Z" fill="#dedede" stroke="#262626" stroke-width="1.2" stroke-linejoin="round"/>
<line x1="564.10" y1="579.60" x2="564.10" y2="642.70" stroke="#262626" stroke-width="1.4"/>
<rect x="557.80" y="607.75" width="12.60" height="20.30" fill="#dedede" stroke="#262626" stroke-width="1.5"/>
<ellipse cx="564.70" cy="619.70" rx="2.20" ry="2.20" fill="#f0f0f0" stroke="#333" stroke-width="1.15"/>
<path d="M460.00 522.00 V679.10 H604.00" fill="none" stroke="#222" stroke-width="1.6"/>
<line x1="452.80" y1="526.00" x2="460.00" y2="526.00" stroke="#222" stroke-width="1.4"/>
<text x="448.30" y="531.75" text-anchor="end" font-family="Liberation Sans, Arial, sans-serif" font-size="15.6" fill="#2c2c2c">20.0</text>
<line x1="452.80" y1="575.85" x2="460.00" y2="575.85" stroke="#222" stroke-width="1.4"/>
<text x="448.30" y="581.60" text-anchor="end" font-family="Liberation Sans, Arial, sans-serif" font-size="15.6" fill="#2c2c2c">15.0</text>
<line x1="452.80" y1="624.90" x2="460.00" y2="624.90" stroke="#222" stroke-width="1.4"/>
<text x="448.30" y="630.65" text-anchor="end" font-family="Liberation Sans, Arial, sans-serif" font-size="15.6" fill="#2c2c2c">10.0</text>
<line x1="452.80" y1="674.80" x2="460.00" y2="674.80" stroke="#222" stroke-width="1.4"/>
<text x="448.30" y="680.55" text-anchor="end" font-family="Liberation Sans, Arial, sans-serif" font-size="15.6" fill="#2c2c2c">0.0</text>
<line x1="495.75" y1="524.75" x2="566.75" y2="524.75" stroke="#222" stroke-width="1.9"/>
<text x="527.50" y="518.30" text-anchor="middle" font-family="Liberation Sans, Arial, sans-serif" font-size="14" font-weight="bold" font-style="italic" fill="#222">P&lt;0.001</text></g>
<g><line x1="709.90" y1="527.00" x2="854.00" y2="527.00" stroke="#c2c2c2" stroke-width="1"/>
<line x1="709.90" y1="562.75" x2="854.00" y2="562.75" stroke="#c2c2c2" stroke-width="1"/>
<line x1="709.90" y1="597.65" x2="854.00" y2="597.65" stroke="#c2c2c2" stroke-width="1"/>
<line x1="709.90" y1="633.60" x2="854.00" y2="633.60" stroke="#c2c2c2" stroke-width="1"/>
<line x1="709.90" y1="668.20" x2="854.00" y2="668.20" stroke="#c2c2c2" stroke-width="1"/>
<path d="M751.19 569.37 C751.37 569.52 751.88 569.84 752.28 570.24 C752.68 570.64 753.11 571.14 753.58 571.76 C754.05 572.37 754.43 572.84 755.10 573.92 C755.76 575.01 756.63 576.81 757.59 578.26 C758.55 579.71 759.76 581.15 760.84 582.60 C761.93 584.04 763.01 585.49 764.09 586.93 C765.18 588.38 766.26 589.82 767.35 591.27 C768.43 592.71 769.57 594.16 770.60 595.60 C771.63 597.05 772.68 598.50 773.52 599.94 C774.37 601.39 775.04 602.83 775.69 604.28 C776.34 605.72 776.96 607.17 777.43 608.61 C777.90 610.06 778.29 611.77 778.51 612.95 C778.73 614.12 778.78 614.59 778.73 615.66 C778.67 616.72 778.55 618.01 778.19 619.34 C777.82 620.68 777.28 622.23 776.56 623.68 C775.84 625.13 774.75 626.57 773.85 628.02 C772.95 629.46 771.92 631.09 771.14 632.35 C770.36 633.62 769.73 634.61 769.19 635.60 C768.65 636.60 768.47 637.50 767.89 638.31 C767.31 639.13 766.53 639.67 765.72 640.48 C764.91 641.30 764.00 642.20 763.01 643.19 C762.02 644.19 760.75 645.36 759.76 646.44 C758.76 647.53 757.90 648.61 757.05 649.70 C756.20 650.78 755.39 651.86 754.66 652.95 C753.94 654.03 753.31 655.12 752.71 656.20 C752.12 657.28 751.54 658.37 751.09 659.45 C750.63 660.54 750.33 661.62 750.00 662.70 C749.68 663.79 749.41 664.87 749.13 665.96 C748.86 667.04 748.60 668.12 748.38 669.21 C748.15 670.29 747.94 671.52 747.78 672.46 C747.62 673.40 747.46 674.45 747.40 674.85 L747.40 674.85 C747.34 674.45 747.18 673.40 747.02 672.46 C746.86 671.52 746.65 670.29 746.42 669.21 C746.20 668.12 745.94 667.04 745.67 665.96 C745.39 664.87 745.12 663.79 744.80 662.70 C744.47 661.62 744.17 660.54 743.71 659.45 C743.26 658.37 742.68 657.28 742.09 656.20 C741.49 655.12 740.86 654.03 740.14 652.95 C739.41 651.86 738.60 650.78 737.75 649.70 C736.90 648.61 736.04 647.53 735.04 646.44 C734.05 645.36 732.78 644.19 731.79 643.19 C730.80 642.20 729.89 641.30 729.08 640.48 C728.27 639.67 727.49 639.13 726.91 638.31 C726.33 637.50 726.15 636.60 725.61 635.60 C725.07 634.61 724.44 633.62 723.66 632.35 C722.88 631.09 721.85 629.46 720.95 628.02 C720.05 626.57 718.96 625.13 718.24 623.68 C717.52 622.23 716.98 620.68 716.61 619.34 C716.25 618.01 716.13 616.72 716.07 615.66 C716.02 614.59 716.07 614.12 716.29 612.95 C716.51 611.77 716.90 610.06 717.37 608.61 C717.84 607.17 718.46 605.72 719.11 604.28 C719.76 602.83 720.43 601.39 721.28 599.94 C722.12 598.50 723.17 597.05 724.20 595.60 C725.23 594.16 726.37 592.71 727.45 591.27 C728.54 589.82 729.62 588.38 730.71 586.93 C731.79 585.49 732.87 584.04 733.96 582.60 C735.04 581.15 736.25 579.71 737.21 578.26 C738.17 576.81 739.04 575.01 739.70 573.92 C740.37 572.84 740.75 572.37 741.22 571.76 C741.69 571.14 742.12 570.64 742.52 570.24 C742.92 569.84 743.43 569.52 743.61 569.37 Z" fill="#fdfdfd" stroke="#262626" stroke-width="1.2" stroke-linejoin="round"/>
<line x1="747.55" y1="578.30" x2="747.55" y2="667.50" stroke="#262626" stroke-width="1.4"/>
<rect x="741.30" y="601.00" width="12.50" height="30.20" fill="#fdfdfd" stroke="#262626" stroke-width="1.5"/>
<ellipse cx="746.95" cy="615.90" rx="2.20" ry="1.70" fill="#fdfdfd" stroke="#333" stroke-width="1.15"/>
<path d="M813.10 540.20 C813.28 541.14 813.84 544.00 814.18 545.84 C814.53 547.68 814.82 549.45 815.16 551.26 C815.50 553.07 815.83 554.87 816.24 556.68 C816.66 558.49 817.09 560.29 817.65 562.10 C818.21 563.91 818.92 565.71 819.60 567.52 C820.29 569.33 820.92 571.13 821.77 572.94 C822.62 574.75 823.67 576.73 824.70 578.36 C825.73 579.99 826.90 581.25 827.95 582.70 C829.00 584.14 829.99 585.59 830.99 587.03 C831.98 588.48 832.92 589.92 833.91 591.37 C834.91 592.81 835.95 594.26 836.95 595.70 C837.94 597.15 838.85 598.73 839.88 600.04 C840.90 601.35 842.34 602.51 843.07 603.55 C843.80 604.59 843.98 605.27 844.27 606.26 C844.55 607.25 844.86 608.43 844.81 609.51 C844.75 610.60 844.48 611.50 843.94 612.76 C843.40 614.03 842.49 615.65 841.56 617.10 C840.62 618.55 839.48 619.99 838.30 621.44 C837.13 622.88 835.68 624.33 834.51 625.77 C833.33 627.22 832.34 628.66 831.26 630.11 C830.17 631.55 829.09 633.00 828.01 634.44 C826.92 635.89 825.78 637.34 824.75 638.78 C823.72 640.23 822.78 641.67 821.83 643.12 C820.87 644.56 819.88 646.01 819.01 647.45 C818.14 648.90 817.29 650.52 816.62 651.79 C815.95 653.05 815.43 654.17 815.00 655.04 C814.56 655.91 814.27 656.52 814.02 656.99 C813.77 657.46 813.57 657.71 813.48 657.86 L812.72 657.86 C812.63 657.71 812.43 657.46 812.18 656.99 C811.93 656.52 811.64 655.91 811.20 655.04 C810.77 654.17 810.25 653.05 809.58 651.79 C808.91 650.52 808.06 648.90 807.19 647.45 C806.32 646.01 805.33 644.56 804.37 643.12 C803.42 641.67 802.48 640.23 801.45 638.78 C800.42 637.34 799.28 635.89 798.19 634.44 C797.11 633.00 796.03 631.55 794.94 630.11 C793.86 628.66 792.87 627.22 791.69 625.77 C790.52 624.33 789.07 622.88 787.90 621.44 C786.72 619.99 785.58 618.55 784.64 617.10 C783.71 615.65 782.80 614.03 782.26 612.76 C781.72 611.50 781.45 610.60 781.39 609.51 C781.34 608.43 781.65 607.25 781.93 606.26 C782.22 605.27 782.40 604.59 783.13 603.55 C783.86 602.51 785.30 601.35 786.32 600.04 C787.35 598.73 788.26 597.15 789.25 595.70 C790.25 594.26 791.29 592.81 792.29 591.37 C793.28 589.92 794.22 588.48 795.21 587.03 C796.21 585.59 797.20 584.14 798.25 582.70 C799.30 581.25 800.47 579.99 801.50 578.36 C802.53 576.73 803.58 574.75 804.43 572.94 C805.28 571.13 805.91 569.33 806.60 567.52 C807.28 565.71 807.99 563.91 808.55 562.10 C809.11 560.29 809.54 558.49 809.96 556.68 C810.37 554.87 810.70 553.07 811.04 551.26 C811.38 549.45 811.67 547.68 812.02 545.84 C812.36 544.00 812.92 541.14 813.10 540.20 Z" fill="#dedede" stroke="#262626" stroke-width="1.2" stroke-linejoin="round"/>
<line x1="813.15" y1="556.10" x2="813.15" y2="648.90" stroke="#262626" stroke-width="1.4"/>
<rect x="806.80" y="594.50" width="12.70" height="28.00" fill="#dedede" stroke="#262626" stroke-width="1.5"/>
<ellipse cx="813.50" cy="609.85" rx="2.20" ry="2.20" fill="#f0f0f0" stroke="#333" stroke-width="1.15"/>
<path d="M709.90 522.75 V679.20 H854.00" fill="none" stroke="#222" stroke-width="1.6"/>
<line x1="703.10" y1="527.00" x2="709.90" y2="527.00" stroke="#222" stroke-width="1.4"/>
<text x="697.80" y="532.75" text-anchor="end" font-family="Liberation Sans, Arial, sans-serif" font-size="15.6" fill="#2c2c2c">30.0</text>
<line x1="703.10" y1="562.75" x2="709.90" y2="562.75" stroke="#222" stroke-width="1.4"/>
<text x="697.80" y="568.50" text-anchor="end" font-family="Liberation Sans, Arial, sans-serif" font-size="15.6" fill="#2c2c2c">25.0</text>
<line x1="703.10" y1="597.65" x2="709.90" y2="597.65" stroke="#222" stroke-width="1.4"/>
<text x="697.80" y="603.40" text-anchor="end" font-family="Liberation Sans, Arial, sans-serif" font-size="15.6" fill="#2c2c2c">20.0</text>
<line x1="703.10" y1="633.60" x2="709.90" y2="633.60" stroke="#222" stroke-width="1.4"/>
<text x="697.80" y="639.35" text-anchor="end" font-family="Liberation Sans, Arial, sans-serif" font-size="15.6" fill="#2c2c2c">15.0</text>
<line x1="703.10" y1="668.20" x2="709.90" y2="668.20" stroke="#222" stroke-width="1.4"/>
<text x="697.80" y="673.95" text-anchor="end" font-family="Liberation Sans, Arial, sans-serif" font-size="15.6" fill="#2c2c2c">10.0</text></g>
<text x="293.8" y="78.5" text-anchor="middle" font-family="Liberation Sans, Arial, sans-serif" font-size="21.5" font-weight="bold" font-style="italic" fill="#111">Large</text>
<text x="538.3" y="78.4" text-anchor="middle" font-family="Liberation Sans, Arial, sans-serif" font-size="21.5" font-weight="bold" font-style="italic" fill="#111">Medium</text>
<text x="782" y="78.4" text-anchor="middle" font-family="Liberation Sans, Arial, sans-serif" font-size="21.5" font-weight="bold" font-style="italic" fill="#111">Small</text>
<text transform="translate(149.7 211.5) rotate(-90) scale(1 1.07)" font-family="Liberation Sans, Arial, sans-serif" font-size="20.7" font-weight="bold" fill="#111" text-anchor="middle">VLDL (nmol/L)</text>
<text transform="translate(149.9 397.5) rotate(-90) scale(1 1.07)" font-family="Liberation Sans, Arial, sans-serif" font-size="20.7" font-weight="bold" fill="#111" text-anchor="middle">LDL (nmol/L)</text>
<text transform="translate(149.9 600.4) rotate(-90) scale(1 1.07)" font-family="Liberation Sans, Arial, sans-serif" font-size="20.7" font-weight="bold" fill="#111" text-anchor="middle">HDL (µmol/L)</text>
<rect x="453.2" y="711.3" width="17.2" height="15.6" fill="#fdfdfd" stroke="#3c3c3c" stroke-width="1.2"/>
<text x="476.0" y="724.5" textLength="31.0" lengthAdjust="spacingAndGlyphs" font-family="DejaVu Sans, Liberation Sans, sans-serif" font-size="13.5" fill="#3a3a3a">Men</text>
<rect x="533.8" y="711.3" width="16.6" height="15.6" fill="#dedede" stroke="#3c3c3c" stroke-width="1.2"/>
<text x="556.6" y="724.5" textLength="54.0" lengthAdjust="spacingAndGlyphs" font-family="DejaVu Sans, Liberation Sans, sans-serif" font-size="13.5" fill="#3a3a3a">Women</text>
</svg>
</body>
</html>
